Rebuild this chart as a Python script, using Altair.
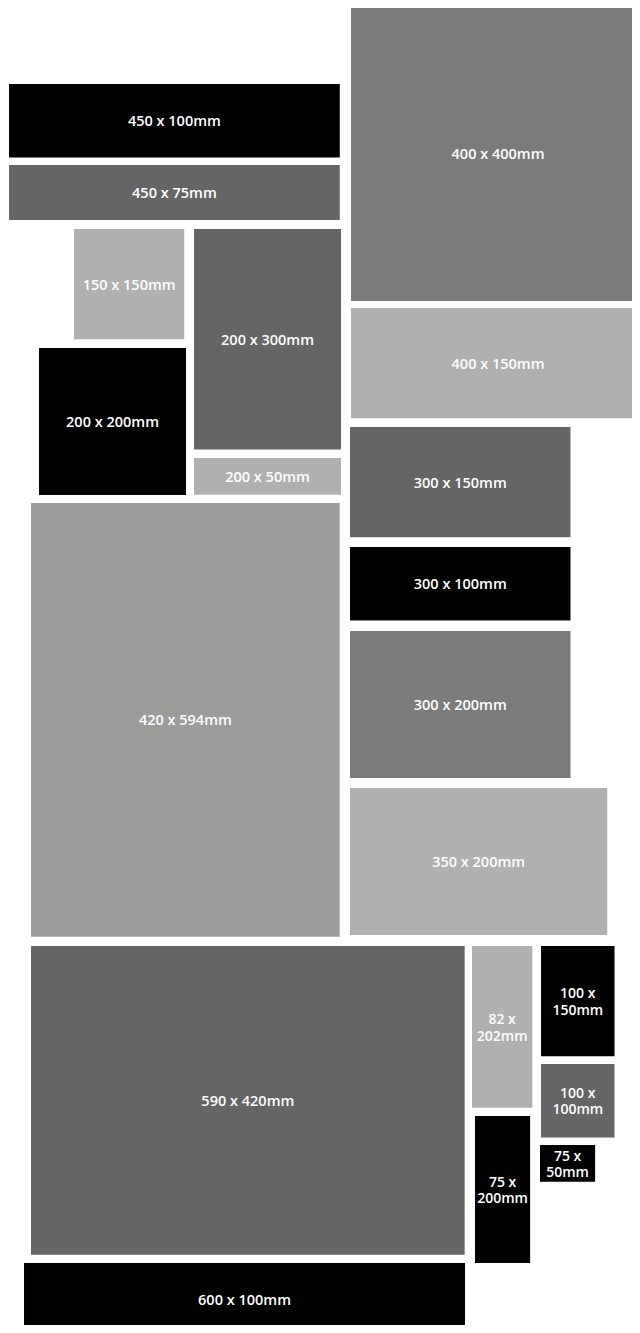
import altair as alt
import pandas as pd

# Print sizes shown as labelled rectangles, laid out on a wall (units: mm)
labels = ["450 x 100mm", "450 x 75mm", "400 x 400mm", "150 x 150mm", "200 x 300mm",
          "200 x 200mm", "200 x 50mm", "400 x 150mm", "420 x 594mm", "300 x 150mm",
          "300 x 100mm", "300 x 200mm", "350 x 200mm", "590 x 420mm", "600 x 100mm",
          "82 x\n202mm", "100 x\n150mm", "100 x\n100mm", "75 x\n50mm", "75 x\n200mm"]
left_mm = [1.4, 1.4, 466.7, 89.8, 253.1, 42.2, 253.1, 466.7, 31.3, 465.3,
           465.3, 465.3, 465.3, 31.3, 21.8, 631.3, 725.2, 725.2, 723.8, 635.4]
top_mm = [103.4, 213.6, -1.4, 300.7, 300.7, 462.6, 612.2, 408.2, 673.5, 570.0,
          733.3, 847.6, 1061.2, 1276.2, 1707.5, 1276.2, 1276.2, 1436.7, 1546.9, 1507.5]
width_mm = [450, 450, 400, 150, 200, 200, 200, 400, 420, 300,
            300, 300, 350, 590, 600, 82, 100, 100, 75, 75]
height_mm = [100, 75, 400, 150, 300, 200, 50, 150, 590, 150,
             100, 200, 200, 420, 100, 220, 150, 100, 50, 200]
shade = ["black", "dark", "mid", "light", "dark", "black", "light", "light", "stone", "dark",
         "black", "mid", "light", "dark", "black", "light", "black", "dark", "black", "black"]

shade_names = ["black", "dark", "mid", "stone", "light"]
shade_colors = ["#000000", "#656565", "#7b7b7b", "#9c9c9a", "#b0b0b0"]

df = pd.DataFrame({
    "label": labels,
    "x0": left_mm,
    "y0": top_mm,
    "w": width_mm,
    "h": height_mm,
    "shade": shade,
})

W, H = 624, 1317
PX_PER_MM = 0.735
xdom = [0, W / PX_PER_MM]
ydom = [0, H / PX_PER_MM]

base = alt.Chart(df).transform_calculate(
    x1="datum.x0 + datum.w",
    y1="datum.y0 + datum.h",
    cx="datum.x0 + datum.w / 2",
    cy="datum.y0 + datum.h / 2",
)

xs = alt.Scale(domain=xdom, nice=False, zero=False)
ys = alt.Scale(domain=ydom, nice=False, zero=False, reverse=True)

rects = base.mark_rect().encode(
    x=alt.X("x0:Q", scale=xs, axis=None),
    x2="x1:Q",
    y=alt.Y("y0:Q", scale=ys, axis=None),
    y2="y1:Q",
    color=alt.Color("shade:N", scale=alt.Scale(domain=shade_names, range=shade_colors), legend=None),
)

text_enc = dict(
    x=alt.X("cx:Q", scale=xs, axis=None),
    y=alt.Y("cy:Q", scale=ys, axis=None),
    text="label:N",
)
text_style = dict(font="Open Sans", fontWeight=600, color="#ffffff",
                  align="center", baseline="middle")

# narrow boxes (< 110 mm wide) carry their label on two lines
single = base.transform_filter("datum.w >= 110").mark_text(
    dy=1.5, fontSize=14.5, **text_style
).encode(**text_enc)

double = base.transform_filter("datum.w < 110").mark_text(
    dy=-6.75, fontSize=14, lineBreak="\n", lineHeight=16.5, **text_style
).encode(**text_enc)

chart = alt.layer(rects, single, double).properties(
    width=W, height=H, padding=0, autosize=alt.AutoSizeParams(type="none"),
).configure_view(stroke=None)

chart.save("out.html", embed_options={"renderer": "svg", "actions": False})
